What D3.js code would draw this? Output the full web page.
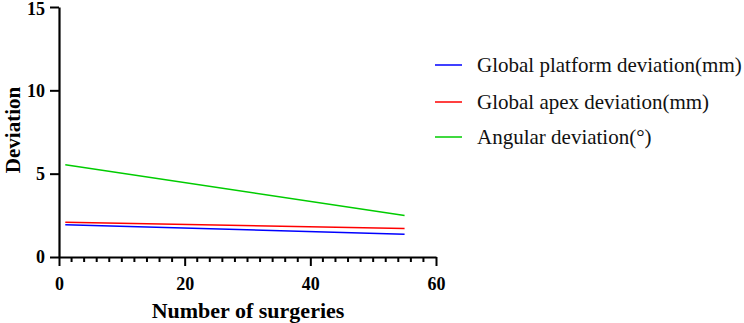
<!DOCTYPE html>
<html>
<head>
<meta charset="utf-8">
<script src="https://cdn.jsdelivr.net/npm/d3@7/dist/d3.min.js"></script>
<style>
  html, body { margin: 0; padding: 0; background: #fff; }
  svg { display: block; }
</style>
</head>
<body>
<svg id="chart" width="744" height="323"></svg>
<script>
// ---- data ----
const xValues = [1, 55];
const seriesNames = ["Global platform deviation(mm)", "Global apex deviation(mm)", "Angular deviation(°)"];
const platformValues = [1.93, 1.37];
const apexValues = [2.09, 1.71];
const angularValues = [5.54, 2.49];
const seriesColors = ["#0000ff", "#ff0000", "#00cc00"];
const xTicks = [0, 20, 40, 60];
const yTicks = [0, 5, 10, 15];
const xTitle = "Number of surgeries";
const yTitle = "Deviation";

const seriesValues = [platformValues, apexValues, angularValues];

const svg = d3.select("#chart");
const x = d3.scaleLinear().domain([0, 60]).range([59, 436]);
const y = d3.scaleLinear().domain([0, 15]).range([257, 7]);

const serif = "'Liberation Serif', 'Times New Roman', serif";

// lines
const line = d3.line().x(d => x(d[0])).y(d => y(d[1]));
seriesValues.forEach((vals, i) => {
  svg.append("path")
    .datum(xValues.map((xv, j) => [xv, vals[j]]))
    .attr("d", line)
    .attr("fill", "none")
    .attr("stroke", seriesColors[i])
    .attr("stroke-width", 1.5);
});

// x minor ticks
const minor = d3.range(0, 61, 2).filter(v => v % 20 !== 0);
const xMinor = svg.append("g").attr("transform", "translate(0,257)");
xMinor.selectAll("line").data(minor).join("line")
  .attr("x1", d => x(d)).attr("x2", d => x(d))
  .attr("y1", 0).attr("y2", 5)
  .attr("stroke", "#000").attr("stroke-width", 2);

// x axis
const xAxis = svg.append("g").attr("transform", "translate(0,257)")
  .call(d3.axisBottom(x).tickValues(xTicks).tickSize(9).tickPadding(11).tickSizeOuter(0));
xAxis.select(".domain").attr("stroke-width", 2.2);
xAxis.selectAll(".tick line").attr("stroke-width", 2);
xAxis.selectAll("text").attr("font-family", serif).attr("font-weight", "bold").attr("font-size", 18).attr("fill", "#000");

// y axis
const yAxis = svg.append("g").attr("transform", "translate(59,0)")
  .call(d3.axisLeft(y).tickValues(yTicks).tickSize(9).tickPadding(5).tickSizeOuter(0));
yAxis.select(".domain").attr("stroke-width", 2.2);
yAxis.selectAll(".tick line").attr("stroke-width", 2);
yAxis.selectAll("text").attr("font-family", serif).attr("font-weight", "bold").attr("font-size", 18).attr("fill", "#000")
  .attr("dy", d => d === 15 ? "0.42em" : "0.32em");

// titles
svg.append("text").attr("x", 248).attr("y", 318)
  .attr("text-anchor", "middle").attr("font-family", serif).attr("font-weight", "bold")
  .attr("font-size", 22).text(xTitle);
svg.append("text").attr("transform", "translate(20,130) rotate(-90)")
  .attr("text-anchor", "middle").attr("font-family", serif).attr("font-weight", "bold")
  .attr("font-size", 21).text(yTitle);

// legend
const legendY = [65, 102, 137];
seriesNames.forEach((name, i) => {
  svg.append("line").attr("x1", 435).attr("x2", 462)
    .attr("y1", legendY[i]).attr("y2", legendY[i])
    .attr("stroke", seriesColors[i]).attr("stroke-width", 1.5);
  svg.append("text").attr("x", 477).attr("y", legendY[i]).attr("dy", "0.35em")
    .attr("font-family", serif).attr("font-size", 21).attr("fill", "#111").text(name);
});
</script>
</body>
</html>
